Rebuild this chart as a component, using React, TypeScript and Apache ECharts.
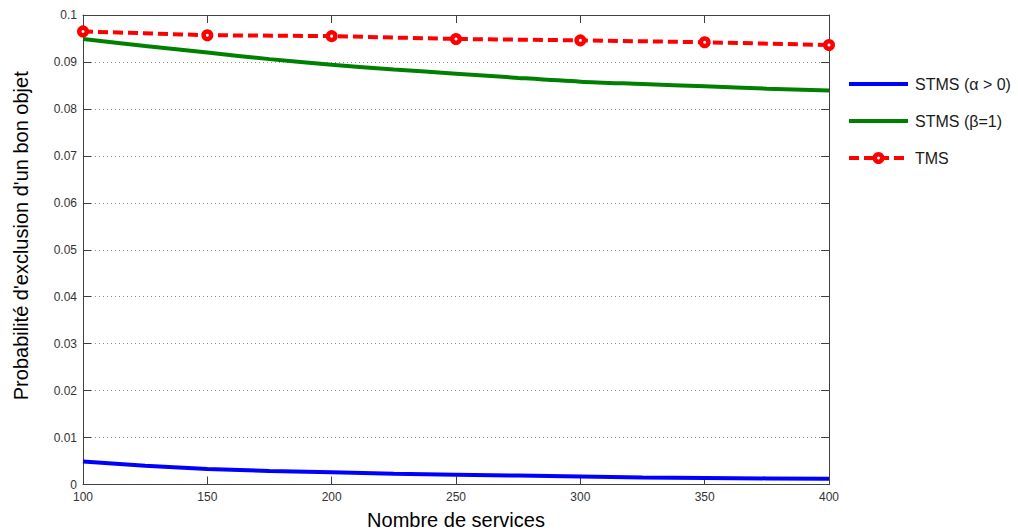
import React, { useEffect, useRef } from "react";
import * as echarts from "echarts";

const services = [100, 125, 150, 175, 200, 225, 250, 275, 300, 325, 350, 375, 400];
const stmsAlpha = [0.0049, 0.0040, 0.0033, 0.0029, 0.0026, 0.0023, 0.0021, 0.0019, 0.0017, 0.0015, 0.0014, 0.0013, 0.0012];
const stmsBeta = [0.0949, 0.0934, 0.0920, 0.0906, 0.0894, 0.0884, 0.0875, 0.0866, 0.0858, 0.0853, 0.0848, 0.0843, 0.0839];
const tmsServices = [100, 150, 200, 250, 300, 350, 400];
const tms = [0.0965, 0.0957, 0.0955, 0.0949, 0.0946, 0.0942, 0.0936];
const seriesNames = ["STMS (α > 0)", "STMS (β=1)", "TMS"];
const seriesColors = ["#0000ff", "#008000", "#ff0000"];

const FONT = "Liberation Sans, Arial, sans-serif";
const AXIS_COLOR = "#404040";

export default function App() {
  const ref = useRef<HTMLDivElement>(null);
  useEffect(() => {
    if (!ref.current) return;
    const chart = echarts.init(ref.current, undefined, { renderer: "svg" });
    const axisCommon = {
      axisLine: { show: true, onZero: false, lineStyle: { color: AXIS_COLOR, width: 1 } },
      axisTick: { show: true, inside: true, length: 8, lineStyle: { color: AXIS_COLOR } },
    };
    const legendX = 849;
    const legendY0 = 84;
    const legendStep = 37;
    const legendGraphics: any[] = [];
    seriesNames.forEach((name, i) => {
      const y = legendY0 + i * legendStep;
      legendGraphics.push({
        type: "line",
        shape: { x1: legendX, y1: y, x2: legendX + 59, y2: y },
        style: {
          stroke: seriesColors[i],
          lineWidth: 4,
          lineDash: i === 2 ? [10, 5] : null,
        },
      });
      if (i === 2) {
        legendGraphics.push({
          type: "circle",
          shape: { cx: legendX + 29.5, cy: y, r: 3.75 },
          style: { fill: "#ffffff", stroke: seriesColors[i], lineWidth: 4.5 },
        });
      }
      legendGraphics.push({
        type: "text",
        x: legendX + 66,
        y: y,
        style: {
          text: name,
          fontFamily: FONT,
          fontSize: 16,
          fill: "#1a1a1a",
          verticalAlign: "middle",
          align: "left",
        },
      });
    });
    chart.setOption({
      animation: false,
      backgroundColor: "#ffffff",
      textStyle: { fontFamily: FONT },
      grid: {
        left: 83,
        right: 189,
        top: 15,
        bottom: 45.5,
        containLabel: false,
        outerBoundsMode: "none",
      },
      graphic: legendGraphics,
      xAxis: [
        {
          type: "value",
          min: 100,
          max: 400,
          interval: 50,
          position: "bottom",
          ...axisCommon,
          splitLine: { show: false },
          axisLabel: { fontFamily: FONT, fontSize: 12, color: "#333", margin: 6 },
          name: "Nombre de services",
          nameLocation: "middle",
          nameGap: 25,
          nameTextStyle: { fontFamily: FONT, fontSize: 20, color: "#000" },
        },
        {
          type: "value",
          min: 100,
          max: 400,
          interval: 50,
          position: "top",
          ...axisCommon,
          splitLine: { show: false },
          axisLabel: { show: false },
        },
      ],
      yAxis: [
        {
          type: "value",
          min: 0,
          max: 0.1,
          interval: 0.01,
          position: "left",
          ...axisCommon,
          splitLine: { show: true, lineStyle: { color: "#8c8c8c", type: [1, 3], width: 1 } },
          axisLabel: { fontFamily: FONT, fontSize: 12, color: "#333", margin: 6 },
          name: "Probabilité d'exclusion d'un bon objet",
          nameLocation: "middle",
          nameGap: 52,
          nameTextStyle: { fontFamily: FONT, fontSize: 20, color: "#000", padding: [0, 0, 0, 28] },
        },
        {
          type: "value",
          min: 0,
          max: 0.1,
          interval: 0.01,
          position: "right",
          ...axisCommon,
          splitLine: { show: false },
          axisLabel: { show: false },
        },
      ],
      series: [
        {
          name: seriesNames[0],
          type: "line",
          data: services.map((s, i) => [s, stmsAlpha[i]]),
          symbol: "none",
          lineStyle: { color: seriesColors[0], width: 4 },
          itemStyle: { color: seriesColors[0] },
        },
        {
          name: seriesNames[1],
          type: "line",
          data: services.map((s, i) => [s, stmsBeta[i]]),
          symbol: "none",
          smooth: 0.3,
          lineStyle: { color: seriesColors[1], width: 4 },
          itemStyle: { color: seriesColors[1] },
        },
        {
          name: seriesNames[2],
          type: "line",
          data: tmsServices.map((s, i) => [s, tms[i]]),
          symbol: "circle",
          symbolSize: 7.5,
          lineStyle: { color: seriesColors[2], width: 4, type: [10, 5] },
          itemStyle: { color: "#ffffff", borderColor: seriesColors[2], borderWidth: 4.5 },
        },
      ],
    });
    return () => chart.dispose();
  }, []);
  return (
    <div
      ref={ref}
      style={{ position: "fixed", left: 0, top: 0, width: 1018, height: 530, background: "#fff" }}
    />
  );
}
